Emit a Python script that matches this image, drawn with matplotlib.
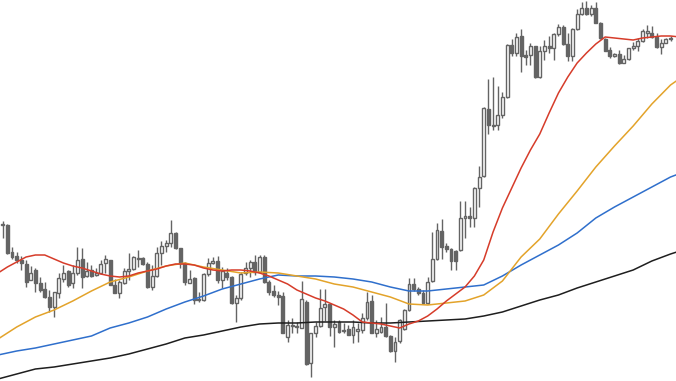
import numpy as np
import matplotlib
matplotlib.use("Agg")
import matplotlib.pyplot as plt

# daily candles (price units), one entry per bar
opens = [175, 175, 148, 144, 140, 136, 120, 130, 117, 111, 103, 93, 107, 121, 129, 117, 127, 141, 124, 130,
         125, 127, 137, 140, 115, 107, 117, 129, 131, 141, 142, 136, 113, 124, 147, 154, 157, 167, 152, 137,
         117, 122, 100, 100, 126, 137, 139, 120, 127, 123, 97, 102, 127, 132, 138, 128, 143, 118, 109, 105,
         104, 63, 74, 73, 72, 98, 37, 67, 74, 93, 96, 73, 78, 69, 71, 65, 69, 70, 82, 99,
         67, 68, 73, 64, 49, 59, 71, 90, 116, 111, 107, 97, 119, 141, 169, 154, 151, 149, 150, 182,
         184, 182, 212, 224, 291, 275, 275, 285, 303, 355, 347, 364, 345, 345, 354, 323, 349, 354, 352, 366,
         373, 356, 344, 371, 386, 392, 386, 392, 377, 361, 350, 344, 346, 337, 341, 352, 354, 359, 367, 367,
         363, 353, 357, 361]
highs = [179, 176, 153, 148, 144, 140, 134, 132, 123, 118, 110, 108, 127, 135, 130, 135, 153, 152, 138, 135,
         132, 140, 145, 140, 121, 120, 132, 147, 144, 150, 143, 138, 135, 153, 159, 160, 180, 168, 152, 138,
         130, 123, 108, 127, 142, 143, 144, 133, 132, 124, 105, 128, 138, 140, 145, 145, 145, 120, 115, 109,
         108, 80, 82, 78, 119, 100, 67, 78, 111, 111, 97, 80, 80, 77, 75, 80, 77, 87, 108, 105,
         80, 83, 97, 65, 63, 81, 91, 122, 122, 113, 110, 123, 168, 177, 181, 157, 152, 150, 199, 199,
         193, 213, 234, 293, 321, 323, 314, 308, 356, 361, 367, 371, 350, 357, 354, 354, 360, 364, 367, 376,
         375, 367, 372, 391, 398, 399, 395, 398, 378, 362, 353, 347, 350, 345, 352, 358, 362, 371, 375, 374,
         367, 361, 362, 364]
lows = [162, 146, 141, 137, 130, 113, 120, 108, 108, 102, 88, 83, 102, 118, 113, 112, 125, 112, 123, 123,
        124, 126, 127, 115, 107, 102, 116, 120, 130, 133, 135, 112, 110, 123, 135, 148, 153, 151, 132, 115,
        117, 96, 98, 99, 124, 136, 117, 112, 120, 96, 78, 100, 125, 123, 125, 127, 117, 105, 103, 95,
        67, 58, 67, 67, 72, 35, 23, 63, 73, 79, 64, 53, 67, 67, 65, 57, 58, 67, 80, 67,
        63, 67, 63, 48, 38, 57, 70, 89, 109, 105, 96, 96, 118, 140, 141, 148, 130, 130, 149, 162,
        173, 173, 193, 223, 266, 270, 270, 282, 302, 344, 344, 328, 335, 335, 322, 322, 340, 347, 340, 364,
        355, 339, 339, 370, 385, 385, 384, 377, 361, 349, 342, 343, 336, 337, 340, 350, 349, 358, 362, 362,
        352, 346, 357, 359]
closes = [176, 147, 143, 140, 137, 118, 127, 117, 110, 103, 93, 108, 122, 127, 115, 127, 140, 123, 129, 124,
          127, 136, 141, 115, 107, 118, 129, 131, 143, 142, 136, 113, 124, 147, 154, 157, 167, 152, 137, 118,
          121, 100, 101, 126, 137, 139, 120, 129, 123, 97, 102, 126, 132, 138, 128, 143, 118, 108, 105, 103,
          67, 75, 75, 74, 101, 36, 67, 74, 92, 96, 73, 76, 68, 70, 65, 73, 71, 82, 98, 67,
          71, 73, 64, 49, 58, 80, 90, 116, 111, 107, 97, 118, 141, 170, 153, 151, 139, 139, 182, 184,
          182, 212, 223, 292, 275, 274, 285, 303, 355, 347, 363, 344, 343, 354, 323, 349, 354, 352, 366, 373,
          356, 344, 371, 386, 392, 386, 392, 377, 362, 349, 344, 346, 337, 341, 352, 354, 359, 369, 369, 363,
          353, 357, 361, 362]

# moving averages
ma_fast_bars = np.arange(-1, 147, 2)
ma_fast = [127, 133, 138, 143, 145, 145, 141, 137, 134, 132, 129, 126, 124, 123, 124, 127, 129, 131, 134, 136,
           136, 135, 132, 130, 129, 130, 130, 129, 127, 124, 120, 116, 110, 106, 102, 99, 95, 91, 85, 78,
           77, 76, 74, 72, 76, 79, 84, 91, 99, 106, 113, 124, 140, 168, 192, 212, 232, 250, 266, 287,
           307, 323, 337, 347, 356, 363, 362, 361, 360, 362, 363, 364, 364, 363]
ma_slow_bars = np.arange(-1, 148, 4)
ma_mid = [61, 73, 83, 90, 99, 109, 118, 123, 129, 134, 137, 133, 130, 127, 128, 127, 124, 121, 116, 113,
          108, 103, 96, 95, 97, 99, 105, 119, 143, 161, 186, 209, 233, 254, 274, 296, 315, 328]
ma_long = [45, 49, 52, 56, 60, 64, 72, 77, 83, 91, 98, 104, 111, 116, 121, 125, 124, 124, 123, 121,
           118, 113, 109, 109, 111, 113, 115, 124, 135, 145, 155, 167, 182, 193, 203, 213, 223, 230]
ma_longest = [21, 26, 31, 33, 36, 39, 42, 46, 51, 56, 62, 65, 69, 73, 76, 77, 77, 78, 78, 78,
              77, 77, 78, 79, 80, 81, 84, 88, 94, 100, 105, 112, 118, 124, 130, 139, 146, 152]

candle_gray = "#646464"

fig = plt.figure(figsize=(6.76, 3.81), dpi=100)
ax = fig.add_axes([0, 0, 1, 1])
ax.set_axis_off()

x = np.arange(len(opens))
o = np.array(opens, dtype=float)
c = np.array(closes, dtype=float)
up = c >= o

# wicks
ax.vlines(x, lows, highs, color=candle_gray, linewidth=1.0, zorder=1)
# bodies
bottom = np.minimum(o, c)
height = np.maximum(np.abs(c - o), 0.6)
ax.bar(x[up], height[up], bottom=bottom[up], width=0.62, color="white",
       edgecolor=candle_gray, linewidth=1.0, zorder=2)
ax.bar(x[~up], height[~up], bottom=bottom[~up], width=0.62, color=candle_gray,
       edgecolor=candle_gray, linewidth=1.0, zorder=2)

# moving average lines
ax.plot(ma_slow_bars, ma_longest, color="#1e1e1e", linewidth=1.1, zorder=3)
ax.plot(ma_slow_bars, ma_long, color="#2f6fcc", linewidth=1.1, zorder=3)
ax.plot(ma_slow_bars, ma_mid, color="#e3a32a", linewidth=1.1, zorder=3)
ax.plot(ma_fast_bars, ma_fast, color="#d63c2a", linewidth=1.1, zorder=3)

ax.set_xlim(-0.58, 144.17)
ax.set_ylim(19, 400)

fig.savefig("out.png", dpi=100, facecolor="white")
